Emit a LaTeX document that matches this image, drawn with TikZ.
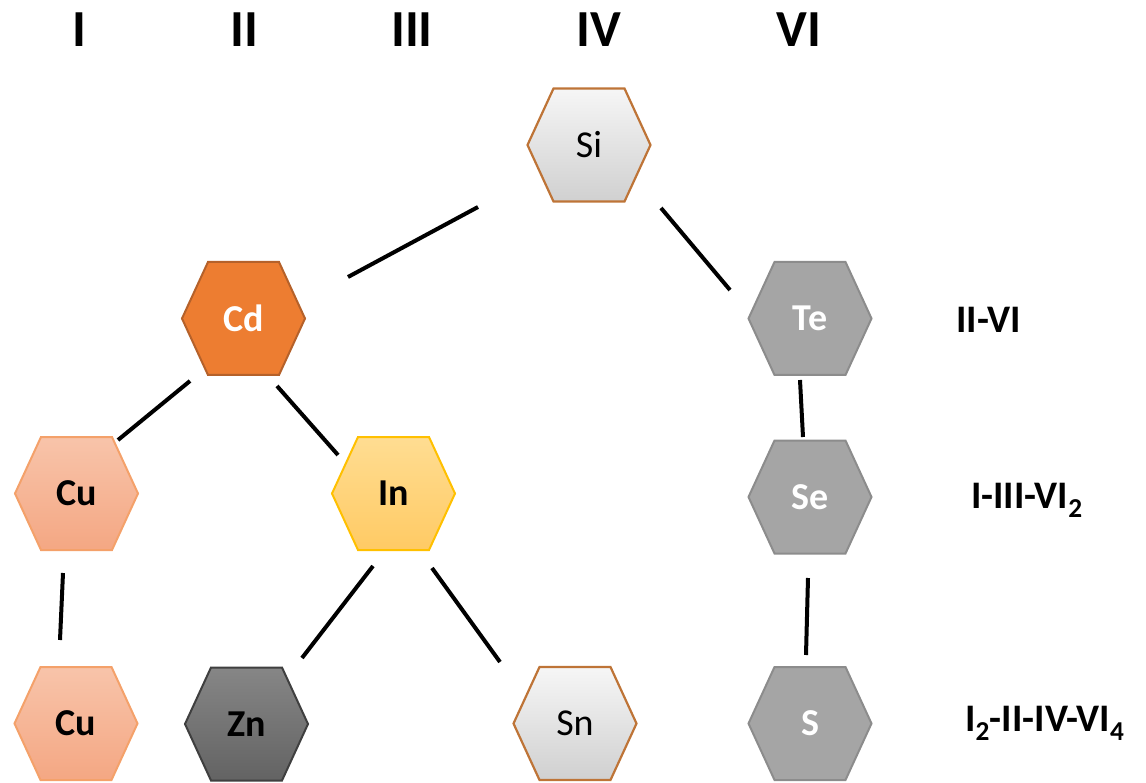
\documentclass[tikz,border=0pt]{standalone}
\usepackage{fontspec}
\setmainfont{Carlito}
\usetikzlibrary{calc}

\definecolor{brownline}{HTML}{BE7437}
\definecolor{orangefill}{HTML}{ED7D31}
\definecolor{orangeline}{HTML}{B5612A}
\definecolor{peachtop}{HTML}{F8C4AA}
\definecolor{peachbot}{HTML}{F4A783}
\definecolor{peachline}{HTML}{F4A16A}
\definecolor{goldtop}{HTML}{FFDD92}
\definecolor{goldbot}{HTML}{FFCA64}
\definecolor{goldline}{HTML}{FFC000}
\definecolor{silvertop}{HTML}{F6F6F6}
\definecolor{silverbot}{HTML}{D0D0D0}
\definecolor{darktop}{HTML}{868686}
\definecolor{darkbot}{HTML}{636363}
\definecolor{darkline}{HTML}{3F3F3F}
\definecolor{greyfill}{HTML}{A5A5A5}
\definecolor{greyline}{HTML}{8C8C8C}

\tikzset{
  hexsilver/.style={draw=brownline, line width=2.2pt, top color=silvertop, bottom color=silverbot},
  hexorange/.style={draw=orangeline, line width=2pt, fill=orangefill},
  hexpeach/.style={draw=peachline, line width=2pt, top color=peachtop, bottom color=peachbot},
  hexgold/.style={draw=goldline, line width=2pt, top color=goldtop, bottom color=goldbot},
  hexdark/.style={draw=darkline, line width=2pt, top color=darktop, bottom color=darkbot},
  hexgrey/.style={draw=greyline, line width=2pt, fill=greyfill},
  elem/.style={font=\fontsize{38}{44}\selectfont, inner sep=0pt},
  elembold/.style={elem, font=\fontsize{38}{44}\selectfont\bfseries},
  group/.style={font=\fontsize{52}{60}\selectfont\bfseries, inner sep=0pt},
  family/.style={font=\fontsize{39}{44}\selectfont\bfseries, inner sep=0pt, anchor=base west},
  link/.style={line width=4pt, black},
}

% hexagon with flat top and bottom: #1 name, #2 centre, #3 style, #4 text style, #5 text
\newcommand\hexcell[5]{%
  \path[#3] ($(#2)+(-61.5,0)$) -- ($(#2)+(-35.5,-56.5)$) -- ($(#2)+(35.5,-56.5)$)
    -- ($(#2)+(61.5,0)$) -- ($(#2)+(35.5,56.5)$) -- ($(#2)+(-35.5,56.5)$) -- cycle;
  \node[#4] (#1) at (#2) {#5};%
}

\begin{document}
\begin{tikzpicture}[x=1pt, y=-1pt]
\path[use as bounding box] (0,0) rectangle (1146,783);

% group numbers
\node[group] (gI)   at (79,30)  {I};
\node[group] (gII)  at (244,30) {II};
\node[group] (gIII) at (412,30) {III};
\node[group] (gIV)  at (599,30) {IV};
\node[group] (gVI)  at (799,30) {VI};

% elements
\hexcell{si}{589,145}{hexsilver}{elem}{Si}
\hexcell{cd}{243.5,318.5}{hexorange}{elembold, text=white}{Cd}
\hexcell{te}{810,318.5}{hexgrey}{elembold, text=white}{Te}
\hexcell{cua}{76.5,493.5}{hexpeach}{elembold}{Cu}
\hexcell{in}{393.5,493.5}{hexgold}{elembold}{In}
\hexcell{se}{810,497}{hexgrey}{elembold, text=white}{Se}
\hexcell{cub}{76,723.5}{hexpeach}{elembold}{Cu}
\hexcell{zn}{246.5,724}{hexdark}{elembold}{Zn}
\hexcell{sn}{575,723.5}{hexsilver}{elem}{Sn}
\hexcell{s}{810,723.5}{hexgrey}{elembold, text=white}{S}

% compound families
\node[family] (fam1) at (956,333) {II-VI};
\node[family] (fam2) at (971,508) {I-III-VI\textsubscript{2}};
\node[family] (fam3) at (965,731) {I\textsubscript{2}-II-IV-VI\textsubscript{4}};

% substitution links
\draw[link] ($(si)+(-111,62)$) -- ($(cd)+(104.5,-41.5)$);
\draw[link] ($(si)+(72,63)$) -- ($(te)+(-80,-28.5)$);
\draw[link] ($(cd)+(-53.5,62.5)$) -- ($(cua)+(41.5,-53.5)$);
\draw[link] ($(cd)+(33.5,67.5)$) -- ($(in)+(-55.5,-38.5)$);
\draw[link] ($(cua)+(-13.5,79.5)$) -- ($(cub)+(-16,-83.5)$);
\draw[link] ($(in)+(-20.5,72.5)$) -- ($(zn)+(55.5,-66)$);
\draw[link] ($(in)+(38.5,74.5)$) -- ($(sn)+(-75,-61.5)$);
\draw[link] ($(te)+(-10,61.5)$) -- ($(se)+(-7,-60)$);
\draw[link] ($(se)+(-2,81)$) -- ($(s)+(-4,-68.5)$);
\end{tikzpicture}
\end{document}
